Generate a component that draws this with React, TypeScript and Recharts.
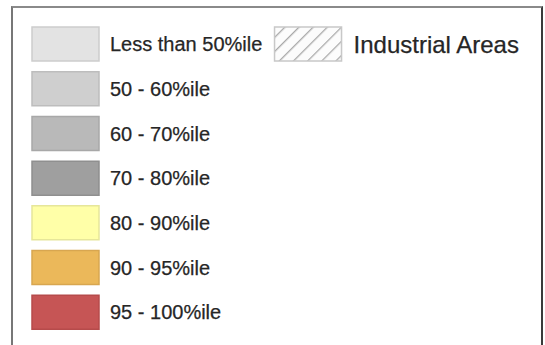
import { BarChart, Bar, XAxis, YAxis, Cell, LabelList } from 'recharts'

const labels = [
  'Less than 50%ile',
  '50 - 60%ile',
  '60 - 70%ile',
  '70 - 80%ile',
  '80 - 90%ile',
  '90 - 95%ile',
  '95 - 100%ile',
]
const fills = ['#e3e3e3', '#cfcfcf', '#b9b9b9', '#9f9f9f', '#ffffa8', '#ebb85a', '#c65555']
const strokes = ['#cdcdcd', '#bdbdbd', '#a8a8a8', '#8f8f8f', '#e6e69a', '#d8a650', '#b64b4b']

// swatch span on the legend's x scale, in swatch widths
const swatchSpan = [0, 1]
const hatchSpan = [3.62, 4.62]
const hatchLabel = 'Industrial Areas'

const data = labels.map((label, i) => ({
  label,
  swatch: swatchSpan,
  hatch: i === 0 ? hatchSpan : null,
  hatchLabel: i === 0 ? hatchLabel : '',
}))

const font = '"Liberation Sans", Arial, Helvetica, sans-serif'

export default function App() {
  return (
    <div style={{ position: 'absolute', left: 0, top: 0, width: 545, height: 345, background: '#fff', overflow: 'hidden', fontFamily: font }}>
      <div
        style={{
          position: 'absolute',
          left: 11,
          top: 6,
          width: 528,
          height: 360,
          borderLeft: '2px solid #777',
          borderTop: '2px solid #8a8a8a',
          borderRight: '2px solid #3a3a3a',
        }}
      />
      <div style={{ position: 'absolute', left: 0, top: 0 }}>
        <BarChart
          width={545}
          height={345}
          data={data}
          layout="vertical"
          margin={{ top: 22, right: 44, bottom: 10, left: 32 }}
        >
          <defs>
            <pattern id="hatch" patternUnits="userSpaceOnUse" width={10} height={10} patternTransform="rotate(45)">
              <rect width={10} height={10} fill="#fcfcfc" />
              <line x1={0} y1={0} x2={0} y2={10} stroke="#a9a9a9" strokeWidth={2.6} />
            </pattern>
          </defs>
          <XAxis type="number" domain={[0, 7]} hide />
          <YAxis yAxisId="main" type="category" dataKey="label" hide />
          <YAxis yAxisId="hatch" type="category" dataKey="label" hide />
          <Bar yAxisId="main" dataKey="swatch" barSize={34} isAnimationActive={false}>
            {data.map((d, i) => (
              <Cell key={d.label} fill={fills[i]} stroke={strokes[i]} strokeWidth={1.5} />
            ))}
            <LabelList
              dataKey="label"
              position="right"
              offset={11}
              style={{ fontSize: 20, fill: '#262626', fontFamily: font, stroke: '#262626', strokeWidth: 0.25 }}
            />
          </Bar>
          <Bar
            yAxisId="hatch"
            dataKey="hatch"
            barSize={34}
            fill="url(#hatch)"
            stroke="#c8c8c8"
            strokeWidth={1.5}
            isAnimationActive={false}
          >
            <LabelList
              dataKey="hatchLabel"
              position="right"
              offset={12}
              style={{ fontSize: 24, fill: '#262626', fontFamily: font, stroke: '#262626', strokeWidth: 0.25 }}
            />
          </Bar>
        </BarChart>
      </div>
    </div>
  )
}
